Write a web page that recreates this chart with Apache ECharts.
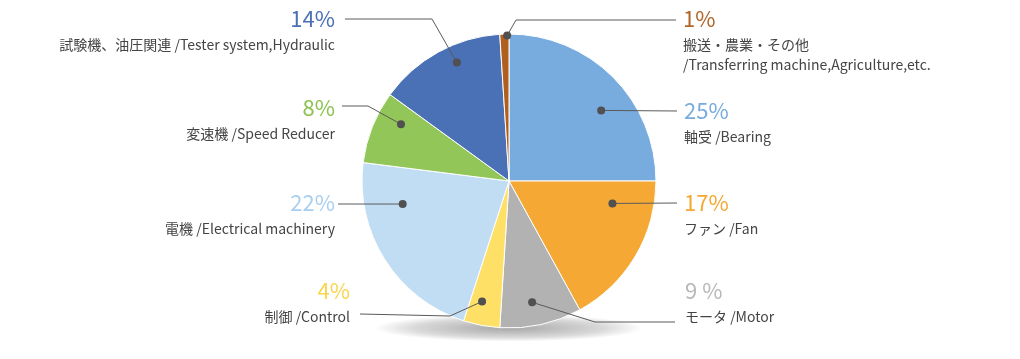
<!DOCTYPE html>
<html>
<head>
<meta charset="utf-8">
<script src="https://cdn.jsdelivr.net/npm/echarts@6/dist/echarts.min.js"></script>
<style>html,body{margin:0;padding:0;background:#fff}#c{width:1020px;height:359px}</style>
</head>
<body>
<div id="c"></div>
<script>
// Data (clockwise from 12 o'clock)
const categories = ['軸受 /Bearing', 'ファン /Fan', 'モータ /Motor', '制御 /Control', '電機 /Electrical machinery', '変速機 /Speed Reducer', '試験機、油圧関連 /Tester system,Hydraulic', '搬送・農業・その他\n/Transferring machine,Agriculture,etc.'];
const values = [25, 17, 9, 4, 22, 8, 14, 1];
const pctLabels = ['25%', '17%', '9 %', '4%', '22%', '8%', '14%', '1%'];

// Styles / layout
const colors = ['#78acde', '#f5a834', '#b2b2b2', '#fee066', '#c1ddf3', '#93c659', '#4a70b6', '#b15f1f'];
const pctColors = ['#78acde', '#f5a834', '#b8b8b8', '#f7d64f', '#a9cff0', '#8cc350', '#4a70b6', '#b0662a'];
const CX = 509, CY = 181, R = 147;
// dot positions: [radius fraction, angle in percent of circle]
const dotPos = [[0.79, 14.6], [0.72, 28.4], [0.84, 47.0], [0.84, 53.5], [0.74, 71.6], [0.83, 82.7], [0.88, 93.4], [0.99, 99.8]];
// label layout: anchor x, top y, align, elbow point (null = none), line end
const labelCfg = [
  {x: 684, y: 95, align: 'left', elbow: null, end: [677, 111]},
  {x: 684, y: 187, align: 'left', elbow: null, end: [677, 203]},
  {x: 685, y: 275, align: 'left', elbow: [595, 322], end: [675, 322]},
  {x: 350, y: 275, align: 'right', elbow: [450, 316], end: [360, 314]},
  {x: 335, y: 187, align: 'right', elbow: null, end: [338, 204]},
  {x: 335, y: 92, align: 'right', elbow: [368, 106], end: [342, 106]},
  {x: 335, y: 3, align: 'right', elbow: [432, 19], end: [345, 19]},
  {x: 683, y: 3, align: 'left', elbow: [516, 20], end: [676, 20]}
];

const chart = echarts.init(document.getElementById('c'), null, {renderer: 'canvas'});
const FONT = '"Noto Sans CJK JP", "Noto Sans", sans-serif';

chart.setOption({
  animation: false,
  backgroundColor: '#ffffff',
  graphic: [{
    type: 'circle',
    x: CX, y: 328, scaleY: 0.1, z: -10,
    shape: {cx: 0, cy: 0, r: 135},
    style: {
      fill: {
        type: 'radial', x: 0.5, y: 0.5, r: 0.5,
        colorStops: [
          {offset: 0, color: 'rgba(0,0,0,0.35)'},
          {offset: 0.7, color: 'rgba(0,0,0,0.15)'},
          {offset: 1, color: 'rgba(0,0,0,0)'}
        ]
      }
    }
  }],
  polar: {center: [CX, CY], radius: R},
  angleAxis: {type: 'value', min: 0, max: 100, startAngle: 90, clockwise: true, show: false},
  radiusAxis: {type: 'value', min: 0, max: 1, show: false},
  series: [{
    type: 'pie',
    center: [CX, CY],
    radius: R,
    startAngle: 90,
    clockwise: true,
    avoidLabelOverlap: false,
    z: 2,
    itemStyle: {borderColor: '#ffffff', borderWidth: 1},
    emphasis: {disabled: true},
    data: values.map((v, i) => ({
      value: v,
      name: categories[i],
      itemStyle: {color: colors[i]},
      label: {
        rich: {
          p: {fontSize: 22, lineHeight: 32, color: pctColors[i], fontFamily: FONT, align: labelCfg[i].align},
          n: {fontSize: 14, lineHeight: 20, color: '#444444', fontFamily: FONT, align: labelCfg[i].align}
        }
      }
    })),
    label: {
      show: true,
      position: 'outside',
      formatter: (p) => '{p|' + pctLabels[p.dataIndex] + '}\n' + p.name.split('\n').map(s => '{n|' + s + '}').join('\n')
    },
    labelLine: {show: false},
    labelLayout: (params) => {
      const c = labelCfg[params.dataIndex];
      return {x: c.x, y: c.y, align: c.align, verticalAlign: 'top'};
    }
  }, {
    type: 'custom',
    coordinateSystem: 'polar',
    z: 5,
    silent: true,
    data: dotPos,
    renderItem: (params, api) => {
      const i = params.dataIndex;
      const p = api.coord([api.value(0), api.value(1)]);
      const c = labelCfg[i];
      const pts = [p];
      if (c.elbow) pts.push(c.elbow);
      pts.push(c.end);
      return {
        type: 'group',
        children: [{
          type: 'polyline',
          shape: {points: pts},
          style: {stroke: '#5a5a5a', lineWidth: 1, fill: null}
        }, {
          type: 'circle',
          shape: {cx: p[0], cy: p[1], r: 4},
          style: {fill: '#505050'}
        }]
      };
    }
  }]
});
</script>
</body>
</html>
